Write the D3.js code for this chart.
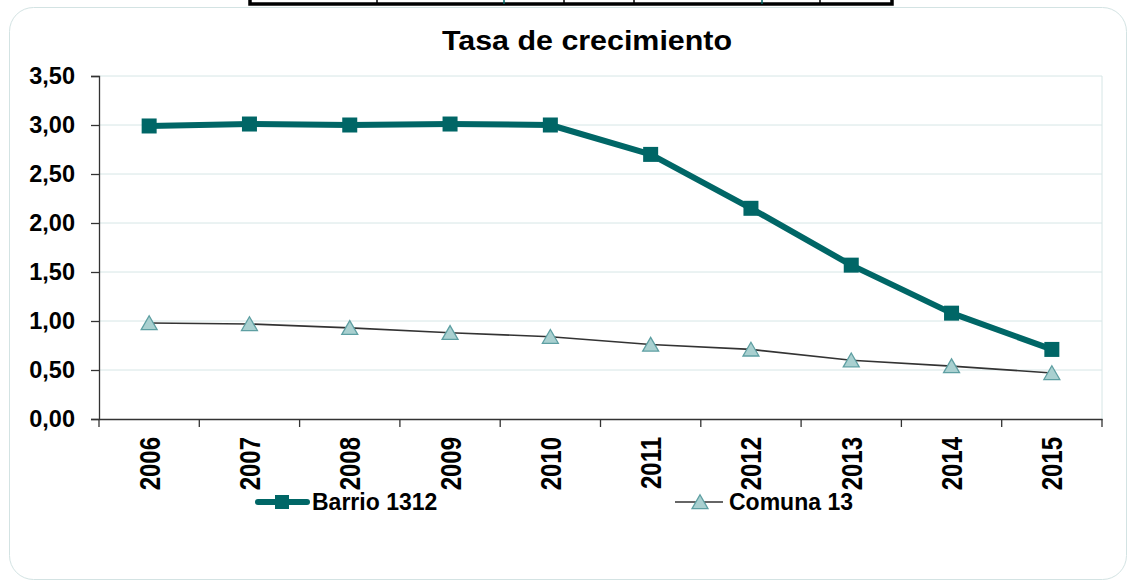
<!DOCTYPE html>
<html><head><meta charset="utf-8">
<script src="https://cdn.jsdelivr.net/npm/d3@7"></script>
<style>body{margin:0;background:#fff}svg{display:block}text{font-family:Arial,"Liberation Sans",sans-serif}</style>
</head><body>
<script>
const years = ["2006","2007","2008","2009","2010","2011","2012","2013","2014","2015"];
const barrio = [2.99,3.01,3.00,3.01,3.00,2.70,2.15,1.57,1.08,0.71];
const comuna = [0.98,0.97,0.93,0.88,0.84,0.76,0.71,0.60,0.54,0.47];
const yTicks = [0,0.5,1,1.5,2,2.5,3,3.5];
const seriesNames = ["Barrio 1312","Comuna 13"];

const W=1133,H=582;
const FF="Arial, 'Liberation Sans', sans-serif";
const svg=d3.select("body").append("svg").attr("width",W).attr("height",H);
// cut-off table fragment at top
const tbl = svg.append("g");
tbl.append("rect").attr("x",250).attr("y",-20).attr("width",642).attr("height",24).attr("fill","#fff").attr("stroke","#000").attr("stroke-width",3.5);
[377,564,634,820].forEach(x=>tbl.append("line").attr("x1",x).attr("x2",x).attr("y1",0).attr("y2",4).attr("stroke","#000").attr("stroke-width",1.5));
[504,762].forEach(x=>tbl.append("line").attr("x1",x).attr("x2",x).attr("y1",0).attr("y2",4).attr("stroke","#006666").attr("stroke-width",1.5));

// outer rounded frame
svg.append("rect").attr("x",9.5).attr("y",7.5).attr("width",1117).attr("height",572).attr("rx",24).attr("fill","#fff").attr("stroke","#d3e3e3").attr("stroke-width",1);

const L=99,R=1102,T=76,B=419;
const x=d3.scaleBand().domain(years).range([L,R]);
const y=d3.scaleLinear().domain([0,3.5]).range([B,T]);
const fmt=d=>d3.format(".2f")(d).replace(".",",");

// gridlines
svg.append("g").selectAll("line").data(yTicks.filter(d=>d>0)).join("line")
 .attr("x1",L).attr("x2",R).attr("y1",d=>y(d)).attr("y2",d=>y(d)).attr("stroke","#d6e6e6").attr("stroke-width",1);
svg.append("line").attr("x1",R).attr("x2",R).attr("y1",T).attr("y2",B).attr("stroke","#d6e6e6");

// y axis
const ya=svg.append("g").attr("transform",`translate(${L},0)`).call(d3.axisLeft(y).tickValues(yTicks).tickFormat(fmt).tickSize(8).tickPadding(16));
ya.select(".domain").attr("stroke","#333").attr("stroke-width",1.3);
ya.selectAll(".tick line").attr("stroke","#333").attr("stroke-width",1.3);
ya.selectAll("text").attr("font-size",23.5).attr("font-weight","bold").attr("fill","#000").attr("font-family",FF);

// x axis
const xa=svg.append("g").attr("transform",`translate(0,${B})`).call(d3.axisBottom(x).tickSize(0).tickPadding(0));
xa.select(".domain").attr("stroke","#333").attr("stroke-width",1.3);
svg.append("g").selectAll("line").data(years.concat(["end"])).join("line")
 .attr("x1",(d,i)=>L+i*x.step()).attr("x2",(d,i)=>L+i*x.step()).attr("y1",B).attr("y2",B+8).attr("stroke","#333").attr("stroke-width",1.3);
xa.selectAll(".tick text").attr("font-size",24).attr("font-weight","bold").attr("fill","#000")
 .attr("font-family",FF)
 .attr("transform","rotate(-90) scale(1,1.25)").attr("text-anchor","end").attr("dy","0.35em").attr("x",-18).attr("y",0);

// title
svg.append("text").attr("x",587).attr("y",50).attr("text-anchor","middle").attr("font-size",28).attr("font-weight","bold")
 .attr("textLength",290).attr("lengthAdjust","spacingAndGlyphs").text("Tasa de crecimiento");

const cx=(d,i)=>x(years[i])+x.bandwidth()/2;
const line=d3.line().x((d,i)=>cx(d,i)).y(d=>y(d));
// comuna
svg.append("path").datum(comuna).attr("d",line).attr("fill","none").attr("stroke","#333").attr("stroke-width",1.6);
const tri=d3.symbol().type(d3.symbolTriangle).size(110);
svg.append("g").selectAll("path").data(comuna).join("path").attr("d",tri)
 .attr("transform",(d,i)=>`translate(${cx(d,i)},${y(d)+2})`).attr("fill","#a9d0d0").attr("stroke","#5e9fa2").attr("stroke-width",1.3);
// barrio
svg.append("path").datum(barrio).attr("d",line).attr("fill","none").attr("stroke","#006666").attr("stroke-width",6).attr("stroke-linejoin","round");
svg.append("g").selectAll("rect").data(barrio).join("rect")
 .attr("x",(d,i)=>cx(d,i)-7.5).attr("y",d=>y(d)-7.5).attr("width",15).attr("height",15).attr("fill","#006666");

// legend
const lg=svg.append("g");
lg.append("line").attr("x1",258).attr("x2",307).attr("y1",502).attr("y2",502).attr("stroke","#006666").attr("stroke-width",6).attr("stroke-linecap","round");
lg.append("rect").attr("x",275).attr("y",495).attr("width",14).attr("height",14).attr("fill","#006666");
lg.append("text").attr("x",312).attr("y",510).attr("font-size",23).attr("font-weight","bold").text(seriesNames[0]);
lg.append("line").attr("x1",675).attr("x2",723).attr("y1",502).attr("y2",502).attr("stroke","#333").attr("stroke-width",1.6);
lg.append("path").attr("d",tri).attr("transform","translate(700,504)").attr("fill","#a9d0d0").attr("stroke","#5e9fa2").attr("stroke-width",1.3);
lg.append("text").attr("x",729).attr("y",510).attr("font-size",23).attr("font-weight","bold").text(seriesNames[1]);
</script>
</body></html>
